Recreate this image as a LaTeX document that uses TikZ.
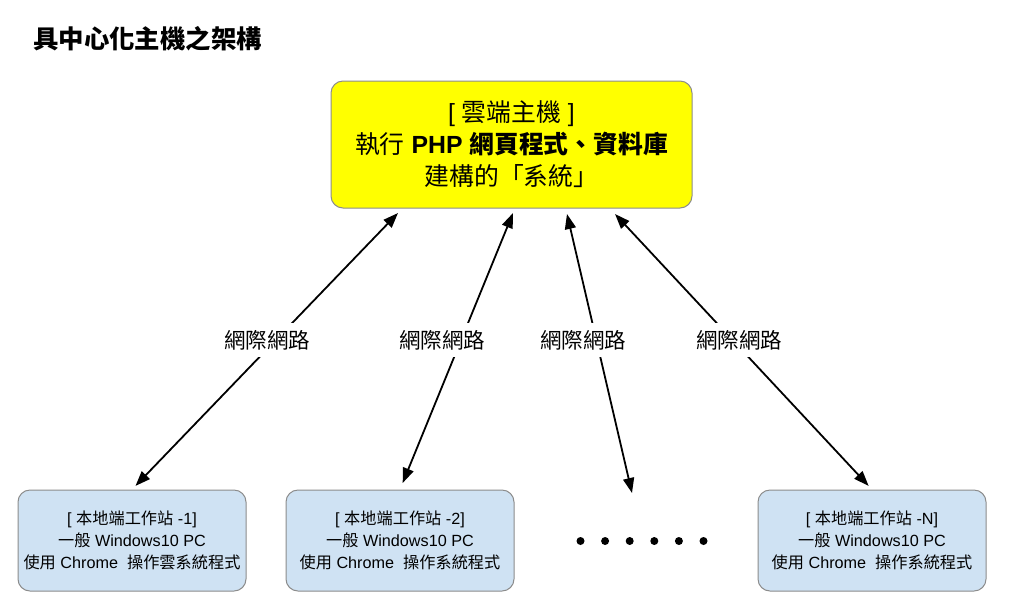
\documentclass[tikz,border=0pt]{standalone}
\usepackage{fontspec}
\setmainfont{Liberation Sans}
\newfontfamily\cjk{Noto Sans CJK TC}
\newcommand\ZH[1]{{\cjk #1}}
\usetikzlibrary{arrows.meta}
\definecolor{boxblue}{HTML}{CFE2F3}
\definecolor{edgegray}{HTML}{8C8C8C}
\definecolor{cloudyellow}{HTML}{FFFF00}
\tikzset{
  cloudbox/.style={draw=edgegray, line width=1pt, fill=cloudyellow, rounded corners=12pt,
    minimum width=361pt, minimum height=127pt, inner sep=0pt, align=center,
    font=\fontsize{24.8}{32}\selectfont},
  pcbox/.style={draw=edgegray, line width=1pt, fill=boxblue, rounded corners=12pt,
    minimum width=228pt, minimum height=101pt, inner sep=0pt, align=center,
    font=\fontsize{16.2}{22}\selectfont},
  link/.style={line width=1.8pt, {Triangle[length=15pt,width=11pt]}-{Triangle[length=15pt,width=11pt]}},
  lbl/.style={fill=white, inner xsep=1pt, inner ysep=0pt, minimum height=34pt,
    font=\fontsize{21.5}{24}\selectfont},
  dot/.style={circle, fill=black, inner sep=0pt, minimum size=8pt}
}
\begin{document}
\begin{tikzpicture}[x=1pt,y=-1pt]
\useasboundingbox[fill=white] (0,0) rectangle (1024,606);

\node[anchor=west, inner sep=0pt, font=\fontsize{25.4}{28}\selectfont] (title) at (33,39) {\ZH{\bfseries 具中心化主機之架構}};

\node[cloudbox] (cloud) at (511.5,144.5) {[ \ZH{雲端主機} ]\\ \ZH{執行} \textbf{PHP} \ZH{\bfseries 網頁程式、資料庫}\\ \ZH{建構的「系統」}};

\node[pcbox] (pc1) at (132,540.5) {[ \ZH{本地端工作站} -1]\\ \ZH{一般} Windows10 PC\\ \ZH{使用} Chrome\ \ \ZH{操作雲系統程式}};
\node[pcbox] (pc2) at (400,540.5) {[ \ZH{本地端工作站} -2]\\ \ZH{一般} Windows10 PC\\ \ZH{使用} Chrome\ \ \ZH{操作系統程式}};
\node[pcbox] (pcn) at (872,540.5) {[ \ZH{本地端工作站} -N]\\ \ZH{一般} Windows10 PC\\ \ZH{使用} Chrome\ \ \ZH{操作系統程式}};

\coordinate (t1) at (398,213);
\coordinate (t2) at (513,213);
\coordinate (t3) at (567,214);
\coordinate (t4) at (615,214);
\coordinate (b3) at (632,493);

\draw[link, shorten >=5pt] (t1) -- (pc1.north);
\draw[link, shorten >=7pt] (t2) -- (pc2.north);
\draw[link] (t3) -- (b3);
\draw[link, shorten >=5pt] (t4) -- (pcn.north);

\node[lbl] (l1) at (267,340) {\ZH{網際網路}};
\node[lbl] (l2) at (442,340) {\ZH{網際網路}};
\node[lbl] (l3) at (583,340) {\ZH{網際網路}};
\node[lbl] (l4) at (739,340) {\ZH{網際網路}};

\foreach \i in {0,...,5} {
  \node[dot] (d\i) at ({580.5+24.6*\i},541) {};
}
\end{tikzpicture}
\end{document}
